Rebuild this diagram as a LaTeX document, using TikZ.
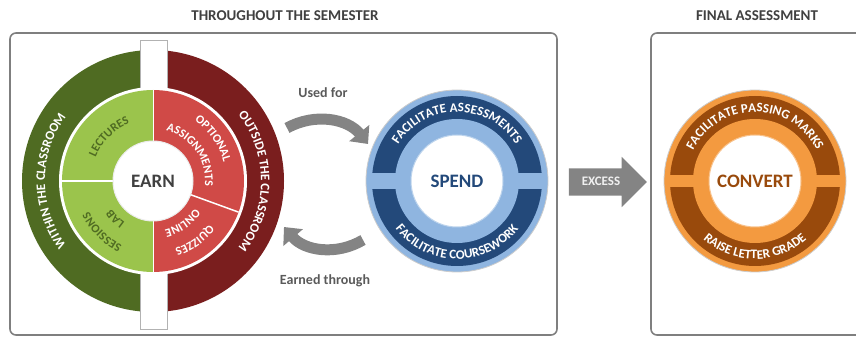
\documentclass[tikz,border=0pt]{standalone}
\usepackage{fontspec}
\setmainfont{Carlito}
\usetikzlibrary{calc}
\usetikzlibrary{arrows.meta,shapes.arrows,decorations.text}

\definecolor{earnDark}{HTML}{4F6B22}
\definecolor{earnLight}{HTML}{9BC44C}
\definecolor{outDark}{HTML}{7A1E1E}
\definecolor{outLight}{HTML}{D04A47}
\definecolor{spendDark}{HTML}{23497A}
\definecolor{spendLight}{HTML}{8FB5E0}
\definecolor{convDark}{HTML}{994A0C}
\definecolor{convLight}{HTML}{F39A40}
\definecolor{arrowGray}{HTML}{848484}
\definecolor{boxGray}{HTML}{7F7F7F}
\definecolor{titleGray}{HTML}{404040}
\definecolor{labelGray}{HTML}{5A5A5A}

\begin{document}
\begin{tikzpicture}[x=1pt,y=1pt,
  frameBox/.style={draw=boxGray, line width=1.6pt, rounded corners=6pt},
  titleText/.style={font=\bfseries\fontsize{15}{15}\selectfont, text=titleGray},
  sideText/.style={font=\bfseries\fontsize{14}{14}\selectfont, text=labelGray},
  hubText/.style={font=\bfseries\fontsize{19}{19}\selectfont},
  curvArrow/.style={line width=11pt, draw=arrowGray, -{Triangle[width=25pt,length=14pt]}}]

\useasboundingbox (0,0) rectangle (856,337);

\newcommand{\arcText}[6]{% size, radius, start angle, end angle, colour, text
    \path[decorate, decoration={text along path, text align=center,
        text color=#5, text={|\bfseries\fontsize{#1}{#1}\selectfont|#6}}]
        (#3:#2) arc (#3:#4:#2);
}

% frames and titles
\draw[frameBox] (10,2) rectangle (557,304);
\draw[frameBox] (651,2) rectangle (880,304);
\node[titleText] (semTitle) at (285,321) {THROUGHOUT THE SEMESTER};
\node[titleText] (finTitle) at (757,321) {FINAL ASSESSMENT};

% earn wheel
\begin{scope}[shift={(153,156)}]
    \fill[earnDark] (90:131) arc (90:270:131) -- cycle;
    \fill[outDark] (-90:131) arc (-90:90:131) -- cycle;
    \draw[fill=white, draw=boxGray!60, line width=0.8pt] (-13,-148) rectangle (14,141);
    \fill[white] (0,0) circle (94);
    \fill[earnLight] (90:91) arc (90:270:91) -- cycle;
    \fill[outLight] (-90:91) arc (-90:90:91) -- cycle;
    \draw[white, line width=1.5pt] (0,0) -- (180:91);
    \draw[white, line width=1.5pt] (0,0) -- (-20:91);
    \draw[white, line width=1pt] (0,-91) -- (0,91);
    \draw[fill=white, draw=white!85!gray, line width=1pt] (0,0) circle (40);
    \node[hubText, text=titleGray] (earn) at (0,0) {EARN};
    \arcText{13}{108}{240}{120}{white}{WITHIN THE CLASSROOM}
    \arcText{13}{108}{60}{-60}{white}{OUTSIDE THE CLASSROOM}
    \arcText{12}{62}{178}{92}{earnDark}{LECTURES}
    \arcText{12}{50}{268}{182}{earnDark}{LAB}
    \arcText{12}{71}{268}{182}{earnDark}{SESSIONS}
    \arcText{12}{73}{88}{-18}{white}{OPTIONAL}
    \arcText{12}{52}{88}{-18}{white}{ASSIGNMENTS}
    \arcText{12}{50}{-22}{-88}{white}{ONLINE}
    \arcText{12}{71}{-22}{-88}{white}{QUIZZES}
\end{scope}

% spend wheel
\begin{scope}[shift={(457,156)}]
    \draw[fill=spendLight, draw=gray!40, line width=0.8pt] (0,0) circle (91);
    \fill[spendDark] (0,0) circle (85);
    \fill[spendLight] (-86,-8) rectangle (86,8);
    \fill[spendLight] (0,0) circle (62);
    \draw[fill=white, draw=spendLight!60, line width=1pt] (0,0) circle (46);
    \node[hubText, text=spendDark] (spend) at (0,0) {SPEND};
    \arcText{13}{69}{175}{5}{white}{FACILITATE ASSESSMENTS}
    \arcText{13}{78}{185}{355}{white}{FACILITATE COURSEWORK}
\end{scope}

% convert wheel
\begin{scope}[shift={(755,156)}]
    \draw[fill=convLight, draw=gray!40, line width=0.8pt] (0,0) circle (91);
    \fill[convDark] (0,0) circle (85);
    \fill[convLight] (-86,-6) rectangle (86,6);
    \fill[convLight] (0,0) circle (62);
    \draw[fill=white, draw=convLight!60, line width=1pt] (0,0) circle (46);
    \node[hubText, text=convDark] (convert) at (0,0) {CONVERT};
    \arcText{13}{69}{175}{5}{white}{FACILITATE PASSING MARKS}
    \arcText{13}{78}{190}{350}{white}{RAISE LETTER GRADE}
\end{scope}

% exchange arrows
\node[sideText] (usedFor) at (323,244) {Used for};
\node[sideText] (earnedThrough) at (325,56) {Earned through};
\coordinate (useTail) at (287,209);
\coordinate (useHead) at (368,193);
\draw[curvArrow] (useTail) to[bend left=40] (useHead);
\coordinate (earnTail) at (363,97);
\coordinate (earnHead) at (284,110);
\draw[curvArrow] (earnTail) to[bend left=40] (earnHead);

\node[single arrow, fill=arrowGray, text=white!88!gray, font=\bfseries\fontsize{13}{13}\selectfont,
    text height=8pt, text depth=0pt, inner ysep=9.5pt, single arrow head extend=11.5pt,
    minimum height=78pt] (excess) at (601,155) {EXCESS};

\end{tikzpicture}
\end{document}
